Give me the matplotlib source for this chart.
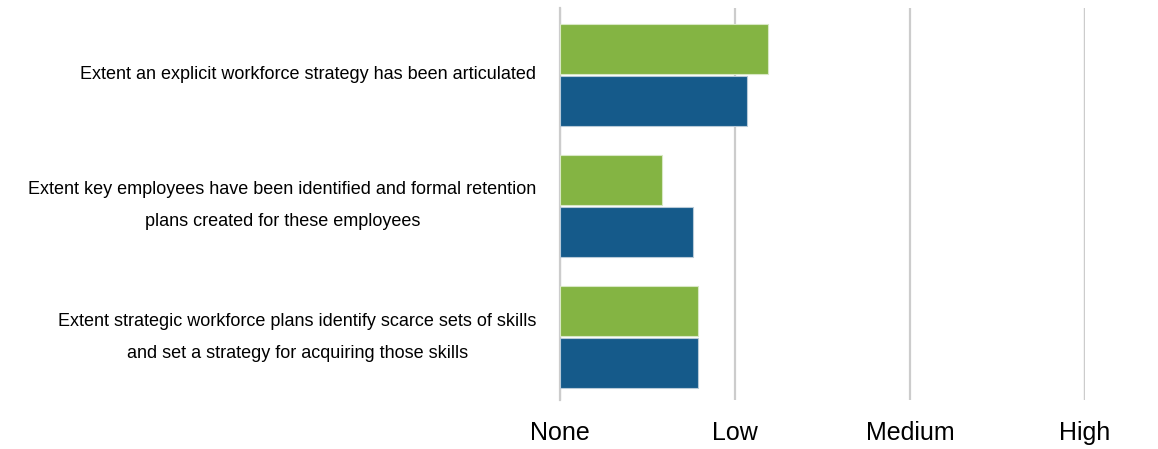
import matplotlib

matplotlib.use("Agg")
import matplotlib.pyplot as plt
import numpy as np

plt.rcParams["font.family"] = ["Liberation Sans", "DejaVu Sans"]

# survey items, top to bottom
items = [
    "Extent an explicit workforce strategy has been articulated",
    "Extent key employees have been identified and formal retention\nplans created for these employees",
    "Extent strategic workforce plans identify scarce sets of skills\nand set a strategy for acquiring those skills",
]
green_scores = [1.19, 0.58, 0.79]
blue_scores = [1.07, 0.76, 0.79]
levels = ["None", "Low", "Medium", "High"]

fig = plt.figure(figsize=(11.58, 4.49), dpi=100)
ax = fig.add_axes([560 / 1158, 1 - 400 / 449, 525 / 1158, 392 / 449])

y = np.arange(len(items))
h = 0.38
ax.barh(y - 0.2, green_scores, height=h, color="#84B443", edgecolor="#d8e8c4", linewidth=0.8, zorder=3)
ax.barh(y + 0.2, blue_scores, height=h, color="#155A8A", edgecolor="#b8cad8", linewidth=0.8, zorder=3)

ax.set_xlim(0, 3)
ax.set_ylim(2.48, -0.51)
ax.set_xticks(range(len(levels)))
ax.set_xticklabels(levels, fontsize=18)
ax.tick_params(axis="x", length=0, pad=15)
ax.grid(axis="x", color="#cccccc", linewidth=1.6, zorder=0)
ax.axvline(3, color="#cccccc", linewidth=1.6, zorder=0)

ax.set_yticks(y)
ax.set_yticklabels(items, fontsize=13)
ax.tick_params(axis="y", length=0, pad=17)
for tl in ax.get_yticklabels():
    tl.set_multialignment("center")
    tl.set_verticalalignment("center")
    tl.set_linespacing(2.15)

for side in ["top", "right", "bottom"]:
    ax.spines[side].set_visible(False)
ax.spines["left"].set_color("#cccccc")
ax.spines["left"].set_linewidth(1.6)

fig.savefig("out.png", dpi=100)
